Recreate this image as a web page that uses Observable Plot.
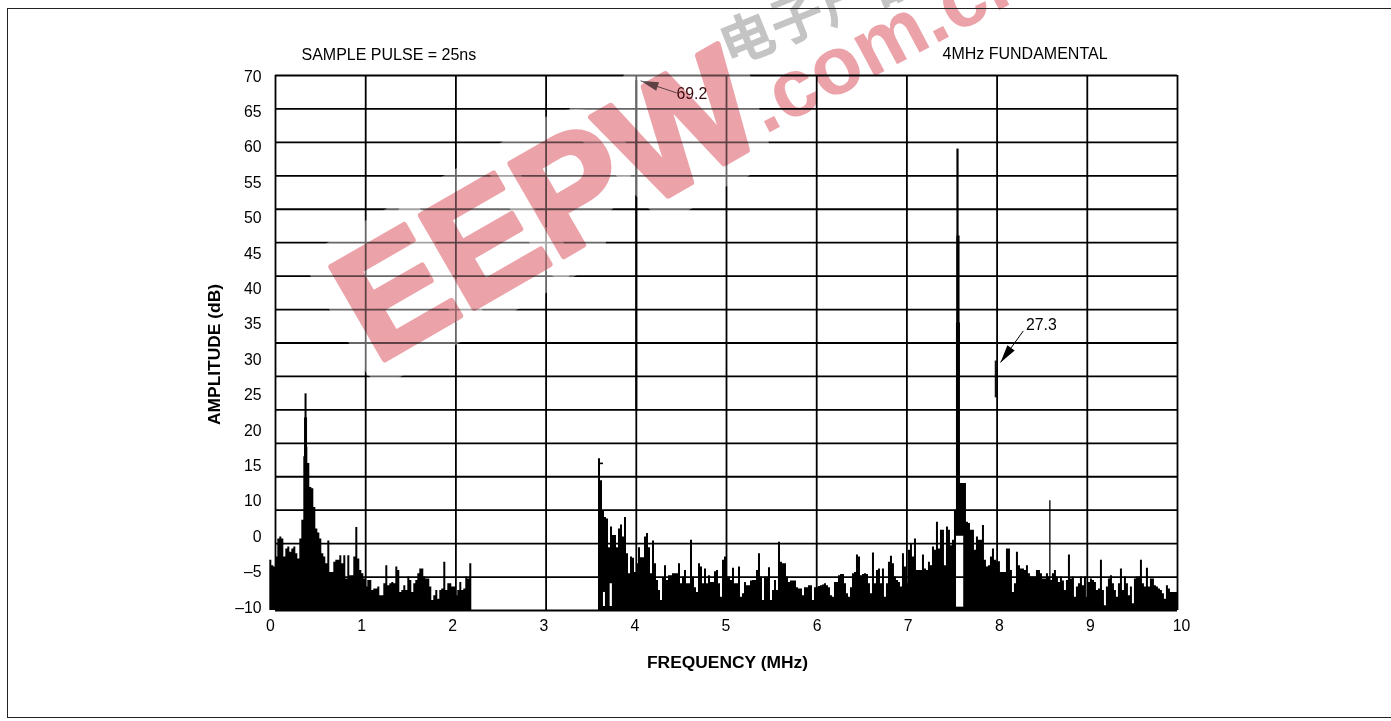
<!DOCTYPE html>
<html>
<head>
<meta charset="utf-8">
<script src="https://cdn.jsdelivr.net/npm/d3@7"></script>
<script src="https://cdn.jsdelivr.net/npm/@observablehq/plot@0.6"></script>
<style>
html,body{margin:0;padding:0;background:#fff;}
#box{position:absolute;left:7px;top:8px;width:1390px;height:710px;border:1px solid #222;box-sizing:border-box;pointer-events:none;}
#chart{position:absolute;left:0;top:0;}
g[aria-label="wm-eepw"] text, g[aria-label="wm-halo"] text{letter-spacing:-24px;}
</style>
</head>
<body>
<div id="chart"></div>
<div id="box"></div>
<script>
const xTickLabels = ["0","1","2","3","4","5","6","7","8","9","10"];
const yTickLabels = ["70","65","60","55","50","45","40","35","30","25","20","15","10","0","–5","–10"];
const xGrid = [0,1,2,3,4,5,6,7,8,9,10];
const yGrid = [-10,-5,0,5,10,15,20,25,30,35,40,45,50,55,60,65,70];

// Envelope of the spectrum (dB), equal frequency steps
const freqStep = 0.02217;
const startA = -0.063;
const spectrumA = [-2.5,-3.3,-3.5,-2,0.7,1,0.7,-2,-0.8,-0.5,-1.3,-0.8,-0.5,-1.5,-2.3,
0.7,3.5,13,14.4,12,8.4,8.2,5.4,2.2,
1.6,0.7,-1.5,-2,-3,0.4,-4.3,-4.3,-2.8,-2.5,-2.5,-1.8,-3,-1.8,-5.3,-1.8,-4.8,-4.8,-2,2.4,-2.3,-4,-4.5,-5.3,-6.5,-5.5,-5.5,-7,-6.8,-6.8,
-6.5,-7.8,-7.8,-6,-3.3,-6.3,-6,-5.8,-6,-3.5,-4,-7.3,-7,-6.3,-7,-5,-5.5,-7.3,-6,-5.5,-4.5,-3.8,-3.8,-5,-5.3,-5.3,-6.5,-8.5,-7.8,-7,-8.3,-7,-6.8,-2.8,-7,-6,-6,-6.5,-6.5,-7.8,-7,-5.8,-7,-6.8,-5,-5.3,-3];
const startB = 3.581;
const spectrumB = [12.7,9.4,4.8,3.9,3.7,-0.6,2.5,1.2,1.2,-0.6,2.2,2.8,1,3.9,-1.5,-4.5,-2,-2.2,-4.3,-3,-0.6,-2.1,-2.1,1,1.5,-0.6,-4.5,0.4,-3,-5.5,-7,-8.5,-5.2,-3.3,-5.5,-4.8,-4.8,-4.5,-4.5,-4.5,-3,-6,-5,-4,-6,-6,0.5,-5,-6.6,-7.3,-3,-3.5,-6,-3.8,-6,-4.8,-5.8,-5.8,-4.2,-4,-6,-8,-2.5,-2,-5,-5,-5.5,-3.7,-6,-6,-3.5,-8,-7.5,-5.8,-6.3,-6.3,-5.6,-5.5,-5.5,-4,-1.5,-5,-8.5,-5,-5,-3.6,-8.5,-7,-5.5,-7,0.2,-2.8,-3,-3,-5,-5.8,-5.6,-5.6,-5.6,-6.6,-6.8,-6.8,-7.8,-6.6,-6.6,-6.3,-6.3,-8.5,-6.6,-6.6,-6.4,-6.3,-6.2,-6,-6.3,-6.6,-7.8,-8,-5.8,-5.8,-4.8,-4.6,-4.6,-6,-7.5,-8,-6.6,-4.5,-4.3,-1.7,-2,-4.8,-4.6,-4.5,-4.6,-6,-7.5,-1.4,-6,-4,-3.8,-6,-3.8,-8,-6,-2.8,-1.9,
-3,-5,-5.5,-5.8,-6.5,-1.5,-3.5,-6,-1,0,-2,0.7,-4,-4,-4,-1.7,-3.8,-4,-2.8,-3.3,-0.5,-1,3.2,-0.8,2,
2,-3.3,2.5,2,-0.3,0.5,5,33,33,9,9,9,3.2,3,2,2,-1,1,0.5,0.5,2.7,-2.5,-3.5,-3.3,-2,-0.8,-2.5,-2.7,-2.7,-4.3,-4.3,-4.3,-0.8,-0.8,-4,-7.3,-6,-1.3,-3.3,-3.8,-3.8,-4,-3.3,-4.5,-5,-5,-5,-4,-4,-4.5,-5.3,-5.3,-4.5,-5,-5.5,-4.5,-4,-5,-5.8,
-5,-5.6,-7,-5.5,-1.7,-5.3,-5,-8,-6.5,-6,-5,-6.3,-5,-8,-5.8,-5.3,-5.5,-5.8,-7,-6.8,-2.5,-7,-9.3,-6.5,-5.3,-4.8,-6,-7,-8,-6,-3.8,-7,-5,-6,-7.8,-6.5,-9,-5.3,-5,-5,-2.5,-6,-6.5,-3.7,-6.5,-5.3,-5.3,-6.3,-6.5,-6.8,-7,-7.5,-8.3,-6.3,-6.8,-7.3,-7.3,-7.3,-7.3];

// Narrow spectral lines standing above the envelope
const spikeFreq = [0.333,0.333,4.0,7.561,7.566,8.585];
const spikeLow  = [-10,-10,20,30,30,-10];
const spikeTop  = [22.4,18.8,69.2,59,46,6.4];
const spikeWide = [2,3,2,2.2,3.2,1.3];
// The isolated 27.3 dB line at 8 MHz
const isoFreq = [7.985], isoLow = [21.8], isoTop = [27.3];
// White hollows at the foot of the envelope
const holeF1 = [3.636,3.71,7.55], holeF2 = [3.658,3.735,7.63], holeLow = [-9.4,-9.4,-9.5], holeTop = [-7.3,-6,1.1];

const toRows = (vals, start, seg) => {
  const r = vals.map((v,i)=>({f:start+i*freqStep, v, seg}));
  r.push({f:start+vals.length*freqStep, v:vals[vals.length-1], seg});
  return r;
};
const rows = [...toRows(spectrumA,startA,"a"), ...toRows(spectrumB,startB,"b")];
const spikes = spikeFreq.map((f,i)=>({f,lo:spikeLow[i],hi:spikeTop[i],w:spikeWide[i]}));
const iso = isoFreq.map((f,i)=>({f,lo:isoLow[i],hi:isoTop[i]}));
const holes = holeF1.map((a,i)=>({a,b:holeF2[i],lo:holeLow[i],hi:holeTop[i]}));

const FF = "'Liberation Sans', Arial, Helvetica, sans-serif";
const xLab = xTickLabels.map((t,i)=>({t, f:(-5+91.1*i)/90.2}));
const yLab = yTickLabels.map((t,i)=>({t, db:69.85-i*5.293}));

const fig = Plot.plot({
  width:1391, height:721,
  marginLeft:0, marginRight:0, marginTop:0, marginBottom:0,
  x:{domain:[0,10], range:[275,1177], axis:null},
  y:{domain:[-10,70], range:[610,75], axis:null},
  style:{fontFamily:FF, background:"white", color:"black", overflow:"hidden"},
  marks:[
    Plot.areaY(rows,{x:"f",y1:-10,y2:"v",z:"seg",curve:"step-after",fill:"black"}),
    Plot.ruleX(spikes,{x:"f",y1:"lo",y2:"hi",stroke:"black",strokeWidth:"w"}),
    Plot.ruleX(iso,{x:"f",y1:"lo",y2:"hi",stroke:"#111",strokeWidth:2}),
    Plot.ruleY([12],{x1:3.592,x2:3.636,stroke:"black",strokeWidth:1.6}),
    Plot.rect(holes,{x1:"a",x2:"b",y1:"lo",y2:"hi",fill:"white"}),
    Plot.ruleX(xGrid,{y1:-10,y2:70,stroke:"black",strokeWidth:1.8}),
    Plot.ruleY(yGrid,{x1:0,x2:10,stroke:"black",strokeWidth:1.8}),
    // tick labels
    Plot.text(xLab,{x:"f",y:-10,dy:15,text:"t",fontSize:15.8,fill:"black",textAnchor:"middle"}),
    Plot.text(yLab,{x:0,y:"db",dx:-14,text:"t",fontSize:15.8,fill:"black",textAnchor:"end"}),
    // axis titles
    Plot.text(["FREQUENCY (MHz)"],{frameAnchor:"top-left",lineAnchor:"middle",dx:727,dy:662,fontSize:17.4,fontWeight:"bold",fill:"black",textAnchor:"middle"}),
    Plot.text(["AMPLITUDE (dB)"],{frameAnchor:"top-left",lineAnchor:"middle",dx:214,dy:354,rotate:-90,fontSize:17.4,fontWeight:"bold",fill:"black",textAnchor:"middle"}),
    // notes
    Plot.text(["SAMPLE PULSE = 25ns"],{frameAnchor:"top-left",lineAnchor:"middle",dx:301,dy:54,fontSize:16,fill:"black",textAnchor:"start"}),
    // callout arrows
    Plot.link([{a:4.446,b:67.4,c:4.047,d:69.2}],{x1:"a",y1:"b",x2:"c",y2:"d",stroke:"black",strokeWidth:1}),
    Plot.vector([{f:4.047,d:69.2}],{x:"f",y:"d",shape:"spike",length:18,r:4.5,rotate:-71.6,anchor:"end",fill:"black",stroke:"none"}),
    Plot.link([{a:8.29,b:31.8,c:8.038,d:27.1}],{x1:"a",y1:"b",x2:"c",y2:"d",stroke:"black",strokeWidth:1}),
    Plot.vector([{f:8.038,d:27.1}],{x:"f",y:"d",shape:"spike",length:18,r:4.5,rotate:-144.3,anchor:"end",fill:"black",stroke:"none"}),
    Plot.text(["27.3"],{x:8.32,y:32.6,dy:-1,fontSize:15.8,fill:"black",textAnchor:"start"}),
    // source watermark
    Plot.text(["EEPW"],{ariaLabel:"wm-halo",frameAnchor:"top-left",lineAnchor:"middle",dx:548,dy:207,rotate:-30,fontSize:155,fontWeight:"bold",fill:"none",stroke:"white",strokeWidth:46,strokeOpacity:0.4,textAnchor:"middle"}),
    Plot.text(["EEPW"],{ariaLabel:"wm-eepw",frameAnchor:"top-left",lineAnchor:"middle",dx:548,dy:207,rotate:-30,fontSize:155,fontWeight:"bold",fill:"#eba3a9",stroke:"#eba3a9",strokeWidth:6,textAnchor:"middle",mixBlendMode:"multiply"}),
    Plot.text([".com.cn"],{frameAnchor:"top-left",lineAnchor:"middle",dx:752,dy:111,rotate:-28,fontSize:82,fontWeight:"bold",fill:"#eba3a9",textAnchor:"start",mixBlendMode:"multiply"}),
    Plot.text(["电子产品世界"],{frameAnchor:"top-left",lineAnchor:"middle",dx:722,dy:50,rotate:-22,fontSize:54,fontWeight:"bold",fontFamily:"'Noto Sans CJK SC'",fill:"#c4c4c4",textAnchor:"start",mixBlendMode:"multiply"}),
    // texts that stay dark over the watermark
    Plot.text(["69.2"],{x:4.446,y:67.4,dy:1,fontSize:15.8,fill:"#3a0a10",textAnchor:"start"}),
    Plot.text(["4MHz FUNDAMENTAL"],{frameAnchor:"top-left",lineAnchor:"middle",dx:942,dy:53,fontSize:16,fill:"black",textAnchor:"start"})
  ]
});
document.getElementById("chart").append(fig);
</script>
</body>
</html>
